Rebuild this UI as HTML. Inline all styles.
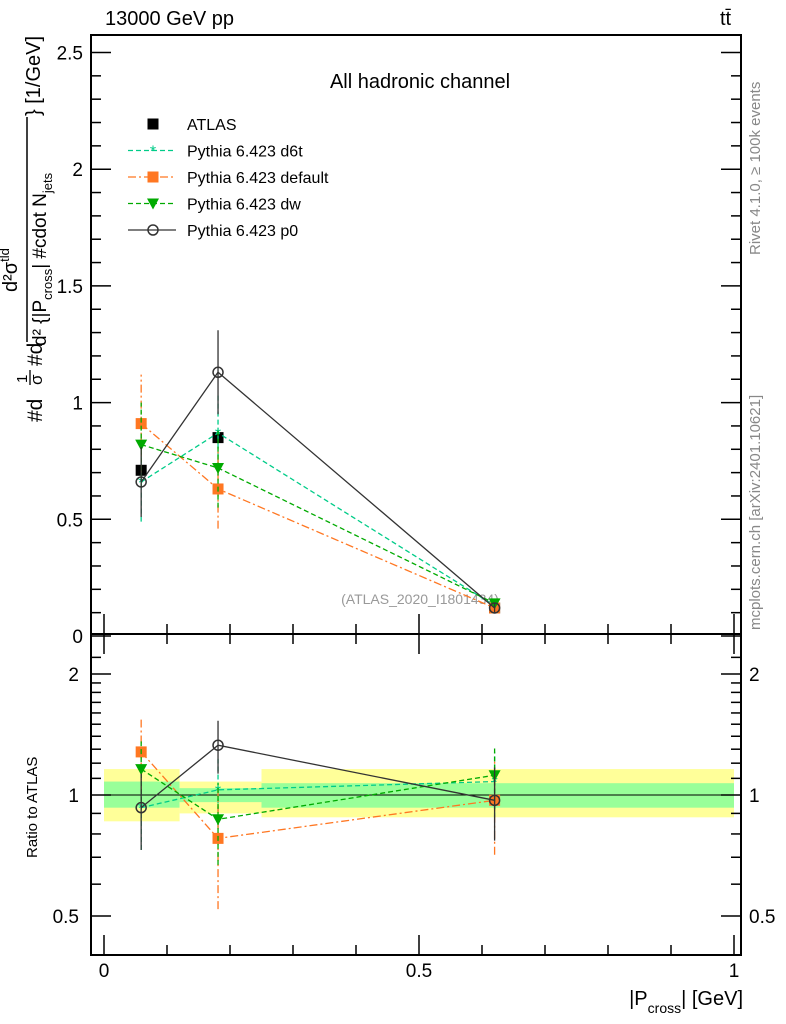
<!DOCTYPE html>
<html><head><meta charset="utf-8"><style>
body{margin:0;background:#fff;}
svg{display:block;font-family:"Liberation Sans",sans-serif;}
</style></head><body>
<svg id="c" width="786" height="1024" viewBox="0 0 786 1024" xmlns="http://www.w3.org/2000/svg">
<text x="105" y="25" font-size="20">13000 GeV pp</text>
<text x="720" y="25" font-size="20">tt̄</text>
<text x="420" y="88" font-size="20" text-anchor="middle">All hadronic channel</text>
<text x="760" y="255" font-size="15" fill="#888" transform="rotate(-90 760 255)">Rivet 4.1.0, ≥ 100k events</text>
<text x="760" y="630" font-size="15" fill="#888" transform="rotate(-90 760 630)">mcplots.cern.ch [arXiv:2401.10621]</text>
<text x="420" y="604" font-size="14" fill="#999" text-anchor="middle">(ATLAS_2020_I1801434)</text>
<g>
<text x="42" y="422" font-size="21" transform="rotate(-90 42 422)">#d</text>
<text x="27" y="383" font-size="15" transform="rotate(-90 27 383)">1</text>
<line x1="30" x2="30" y1="385" y2="370" stroke="#000" stroke-width="1.3"/>
<text x="42" y="385" font-size="17" transform="rotate(-90 42 385)">σ</text>
<text x="42" y="366" font-size="21" transform="rotate(-90 42 366)">#d</text>
<line x1="27" x2="27" y1="342" y2="117" stroke="#000" stroke-width="1.5"/>
<text x="17" y="292" font-size="20" transform="rotate(-90 17 292)">d²σ<tspan font-size="13" dy="-8">tld</tspan></text>
<text x="46" y="346" font-size="19" transform="rotate(-90 46 346)">d² {|P<tspan font-size="13" dy="6">cross</tspan><tspan dy="-6">| #cdot N</tspan><tspan font-size="13" dy="6">jets</tspan></text>
<text x="40" y="116" font-size="20" transform="rotate(-90 40 116)">} [1/GeV]</text>
</g>
<text x="37" y="858" font-size="15" transform="rotate(-90 37 858)">Ratio to ATLAS</text>
<text x="743" y="1005" font-size="20" text-anchor="end">|P<tspan font-size="14" dy="8">cross</tspan><tspan dy="-8">| [GeV]</tspan></text>
<g id="g"></g>
</svg>
<script>
const xs=[0.059,0.181,0.62];
const atlas=[0.71,0.85,0.12];
const atlasErr=[0.03,0.03,0.01];
const d6t=[0.66,0.87,0.13];
const d6tErr=[0.17,0.17,0.02];
const deflt=[0.91,0.63,0.12];
const defltErr=[0.21,0.17,0.02];
const dw=[0.82,0.72,0.14];
const dwErr=[0.18,0.17,0.02];
const p0=[0.66,1.13,0.12];
const p0Err=[0.15,0.18,0.02];
const rD6t=[0.93,1.03,1.08];
const rDeflt=[1.28,0.78,0.97];
const rDw=[1.16,0.87,1.12];
const rP0=[0.93,1.33,0.97];
const rErr=[0.2,0.2,0.2];
const binEdges=[0,0.12,0.25,1];
const yellowLo=[0.86,0.9,0.88], yellowHi=[1.16,1.08,1.16];
const greenLo=[0.93,0.96,0.93], greenHi=[1.08,1.04,1.07];
const mainTicks=[0,0.5,1,1.5,2,2.5];
const ratioTicks=[0.5,1,2];
const xTicks=[0,0.5,1];

const NS="http://www.w3.org/2000/svg";
const g=document.getElementById('g');
const X=v=>104+630*v;
const Y=v=>636-233.4*v;
const R=v=>795-121*Math.log2(v);
function el(t,a,name){const e=document.createElementNS(NS,t);for(const k in a)e.setAttribute(k,a[k]);


g.appendChild(e);return e;}
const L=91,Rt=741;
for(let i=0;i<3;i++){
 el('rect',{x:X(binEdges[i]),y:R(yellowHi[i]),width:X(binEdges[i+1])-X(binEdges[i]),height:R(yellowLo[i])-R(yellowHi[i]),fill:'#ffff99'},'band-yellow');
 el('rect',{x:X(binEdges[i]),y:R(greenHi[i]),width:X(binEdges[i+1])-X(binEdges[i]),height:R(greenLo[i])-R(greenHi[i]),fill:'#99ff99'},'band-green');
}
el('line',{x1:L,x2:Rt,y1:R(1),y2:R(1),stroke:'#000','stroke-width':1},'ratio-unity-line');
el('rect',{x:L,y:35,width:Rt-L,height:599,fill:'none',stroke:'#000','stroke-width':2},'main-frame');
el('rect',{x:L,y:634,width:Rt-L,height:321,fill:'none',stroke:'#000','stroke-width':2},'ratio-frame');
for(let v=0;v<=2.6;v+=0.1){const y=Y(v);if(y<36)continue;const major=Math.abs(v*2-Math.round(v*2))<1e-6;
 el('line',{x1:L,x2:L+(major?20:10),y1:y,y2:y,stroke:'#000','stroke-width':1.5},'y-tick');
 el('line',{x1:Rt,x2:Rt-(major?20:10),y1:y,y2:y,stroke:'#000','stroke-width':1.5},'y-tick-right');}
mainTicks.forEach(v=>{const t=el('text',{x:L-8,y:Y(v)+7,'font-size':19,'text-anchor':'end'},'y-tick-label');t.textContent=v;});
[0.4,0.5,0.6,0.7,0.8,0.9,1,1.1,1.2,1.3,1.4,1.5,1.6,1.7,1.8,1.9,2,2.2].forEach(v=>{const y=R(v);if(y<636||y>954)return;const major=ratioTicks.includes(v);
 el('line',{x1:L,x2:L+(major?20:10),y1:y,y2:y,stroke:'#000','stroke-width':1.5},'ratio-tick');
 el('line',{x1:Rt,x2:Rt-(major?20:10),y1:y,y2:y,stroke:'#000','stroke-width':1.5},'ratio-tick-right');});
ratioTicks.forEach(v=>{const t=el('text',{x:L-12,y:R(v)+7,'font-size':19,'text-anchor':'end'},'ratio-tick-label');t.textContent=v;
 const t2=el('text',{x:Rt+8,y:R(v)+7,'font-size':19},'ratio-tick-label-right');t2.textContent=v;});
for(let i=0;i<=10;i++){const v=i/10,x=X(v),major=i%5==0;
 [[634,-1],[634,1],[955,-1]].forEach(([b,d])=>el('line',{x1:x,x2:x,y1:b,y2:b+d*(major?20:10),stroke:'#000','stroke-width':1.5},'x-tick'));}
xTicks.forEach(v=>{const t=el('text',{x:X(v),y:977,'font-size':19,'text-anchor':'middle'},'x-tick-label');t.textContent=v;});
function series(vals,errs,Yf,color,dash,marker,name,width){
 el('polyline',{points:vals.map((v,i)=>X(xs[i])+','+Yf(v)).join(' '),fill:'none',stroke:color,'stroke-width':width||1.3,'stroke-dasharray':dash},name+'-line');
 vals.forEach((v,i)=>{const x=X(xs[i]);
  el('line',{x1:x,x2:x,y1:Yf(Math.max(v-errs[i],0.01)),y2:Yf(v+errs[i]),stroke:color,'stroke-width':1.3,'stroke-dasharray':dash},name+'-errbar');
  drawMarker(marker,x,Yf(v),color,name);});
}
function drawMarker(m,x,y,c,name){
 if(m=='sq')el('rect',{x:x-5.5,y:y-5.5,width:11,height:11,fill:c},name+'-marker');
 else if(m=='tri')el('polygon',{points:`${x-6},${y-5} ${x+6},${y-5} ${x},${y+6}`,fill:c},name+'-marker');
 else if(m=='star')el('text',{x:x,y:y+6,'font-size':16,fill:c,'text-anchor':'middle'},name+'-marker').textContent='*';
 else if(m=='circ')el('circle',{cx:x,cy:y,r:5,fill:'none',stroke:c,'stroke-width':1.5},name+'-marker');
}
atlas.forEach((v,i)=>{drawMarker('sq',X(xs[i]),Y(v),'#000','atlas');});
series(d6t,d6tErr,Y,'#00cc88','5,3','star','d6t');
series(deflt,defltErr,Y,'#ff7722','8,3,2,3','sq','default');
series(dw,dwErr,Y,'#00aa00','5,3','tri','dw');
series(p0,p0Err,Y,'#333333','none','circ','p0');
series(rD6t,rErr,R,'#00cc88','5,3','star','ratio-d6t');
series(rDeflt,rErr.map(e=>e*1.3),R,'#ff7722','8,3,2,3','sq','ratio-default');
series(rDw,rErr,R,'#00aa00','5,3','tri','ratio-dw');
series(rP0,rErr,R,'#333333','none','circ','ratio-p0');
const leg=[['ATLAS','#000','none','sq'],['Pythia 6.423 d6t','#00cc88','5,3','star'],['Pythia 6.423 default','#ff7722','8,3,2,3','sq'],['Pythia 6.423 dw','#00aa00','5,3','tri'],['Pythia 6.423 p0','#333','none','circ']];
leg.forEach((l,i)=>{const y=124+26.5*i;
 if(i>0)el('line',{x1:128,x2:176,y1:y,y2:y,stroke:l[1],'stroke-width':1.3,'stroke-dasharray':l[2]},'legend-line');
 drawMarker(l[3],153,y,l[1],'legend-marker');
 el('text',{x:187,y:y+6,'font-size':16},'legend-entry').textContent=l[0];});
</script>
</body></html>
